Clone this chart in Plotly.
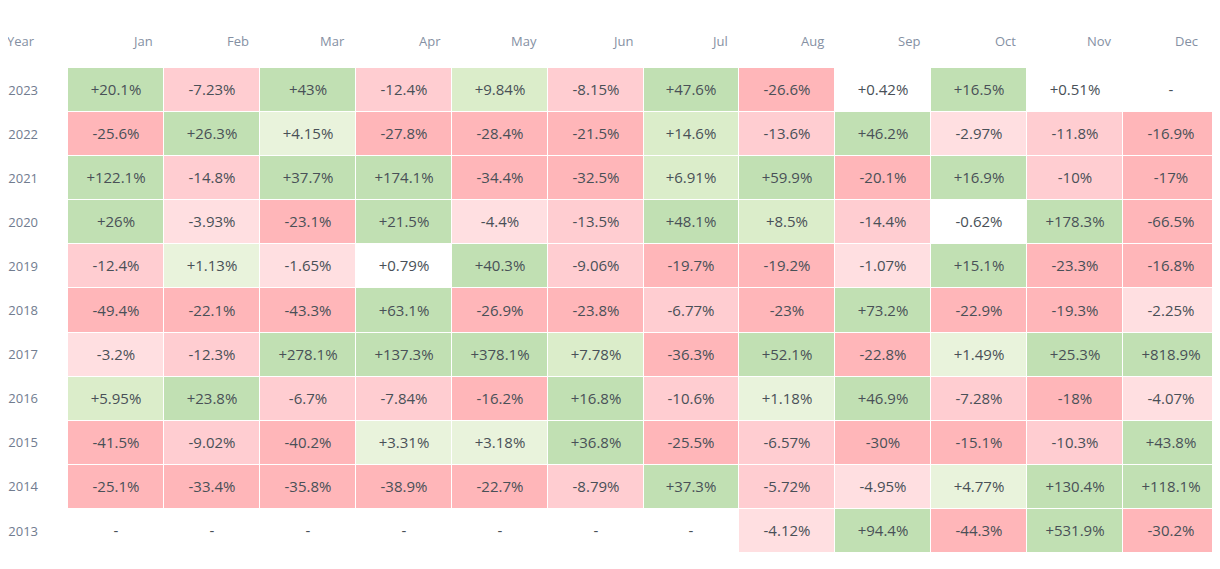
import plotly.graph_objects as go

months = ["Jan", "Feb", "Mar", "Apr", "May", "Jun", "Jul", "Aug", "Sep", "Oct", "Nov", "Dec"]
years = ["2023", "2022", "2021", "2020", "2019", "2018", "2017", "2016", "2015", "2014", "2013"]

r2023 = [20.1, -7.23, 43, -12.4, 9.84, -8.15, 47.6, -26.6, 0.42, 16.5, 0.51, None]
r2022 = [-25.6, 26.3, 4.15, -27.8, -28.4, -21.5, 14.6, -13.6, 46.2, -2.97, -11.8, -16.9]
r2021 = [122.1, -14.8, 37.7, 174.1, -34.4, -32.5, 6.91, 59.9, -20.1, 16.9, -10, -17]
r2020 = [26, -3.93, -23.1, 21.5, -4.4, -13.5, 48.1, 8.5, -14.4, -0.62, 178.3, -66.5]
r2019 = [-12.4, 1.13, -1.65, 0.79, 40.3, -9.06, -19.7, -19.2, -1.07, 15.1, -23.3, -16.8]
r2018 = [-49.4, -22.1, -43.3, 63.1, -26.9, -23.8, -6.77, -23, 73.2, -22.9, -19.3, -2.25]
r2017 = [-3.2, -12.3, 278.1, 137.3, 378.1, 7.78, -36.3, 52.1, -22.8, 1.49, 25.3, 818.9]
r2016 = [5.95, 23.8, -6.7, -7.84, -16.2, 16.8, -10.6, 1.18, 46.9, -7.28, -18, -4.07]
r2015 = [-41.5, -9.02, -40.2, 3.31, 3.18, 36.8, -25.5, -6.57, -30, -15.1, -10.3, 43.8]
r2014 = [-25.1, -33.4, -35.8, -38.9, -22.7, -8.79, 37.3, -5.72, -4.95, 4.77, 130.4, 118.1]
r2013 = [None, None, None, None, None, None, None, -4.12, 94.4, -44.3, 531.9, -30.2]

rows = [r2023, r2022, r2021, r2020, r2019, r2018, r2017, r2016, r2015, r2014, r2013]

bin_colors = ["#ffb6b9", "#ffcdd1", "#ffdfe1", "#ffffff", "#e9f3dc", "#dbedca", "#c1e0b3"]


def category(v):
    if v is None:
        return 3
    if v <= -15:
        return 0
    if v <= -5:
        return 1
    if v <= -1:
        return 2
    if v < 1:
        return 3
    if v < 5:
        return 4
    if v < 15:
        return 5
    return 6


def label(v):
    if v is None:
        return "-"
    return f"{v:+g}%"


z = [[category(v) for v in r] for r in rows]
text = [[label(v) for v in r] for r in rows]

n = len(bin_colors)
colorscale = []
for i, c in enumerate(bin_colors):
    colorscale.append([i / n, c])
    colorscale.append([(i + 1) / n, c])

fig = go.Figure(
    go.Heatmap(
        z=z,
        x=months,
        y=years,
        text=text,
        texttemplate="%{text}",
        textfont=dict(family="Open Sans", size=15, color="#495057"),
        colorscale=colorscale,
        zmin=-0.5,
        zmax=n - 0.5,
        showscale=False,
        xgap=1,
        ygap=1,
        hoverinfo="skip",
    )
)

annotations = []
for i, m in enumerate(months):
    pad = 19 if i == len(months) - 1 else 9
    annotations.append(
        dict(
            x=m, y=1, xref="x", yref="paper", text=m, showarrow=False,
            xanchor="right", yanchor="middle", xshift=48 - pad, yshift=27,
            font=dict(family="Open Sans", size=13, color="#8590a3"),
        )
    )
annotations.append(
    dict(
        x=0, y=1, xref="paper", yref="paper", text="Year", showarrow=False,
        xanchor="left", yanchor="middle", xshift=-63, yshift=27,
        font=dict(family="Open Sans", size=13, color="#8590a3"),
    )
)

# page body has an 8px margin, so the figure is sized 8px smaller
fig.update_layout(
    width=1212,
    height=561,
    margin=dict(l=60, r=1, t=60, b=16),
    paper_bgcolor="white",
    plot_bgcolor="white",
    annotations=annotations,
    xaxis=dict(showticklabels=False, showgrid=False, zeroline=False, fixedrange=True),
    yaxis=dict(
        autorange="reversed", showgrid=False, zeroline=False, ticks="",
        ticklabelstandoff=29, type="category",
        tickfont=dict(family="Open Sans", size=13, color="#717c8f"),
    ),
)

fig.write_html("out.html")
